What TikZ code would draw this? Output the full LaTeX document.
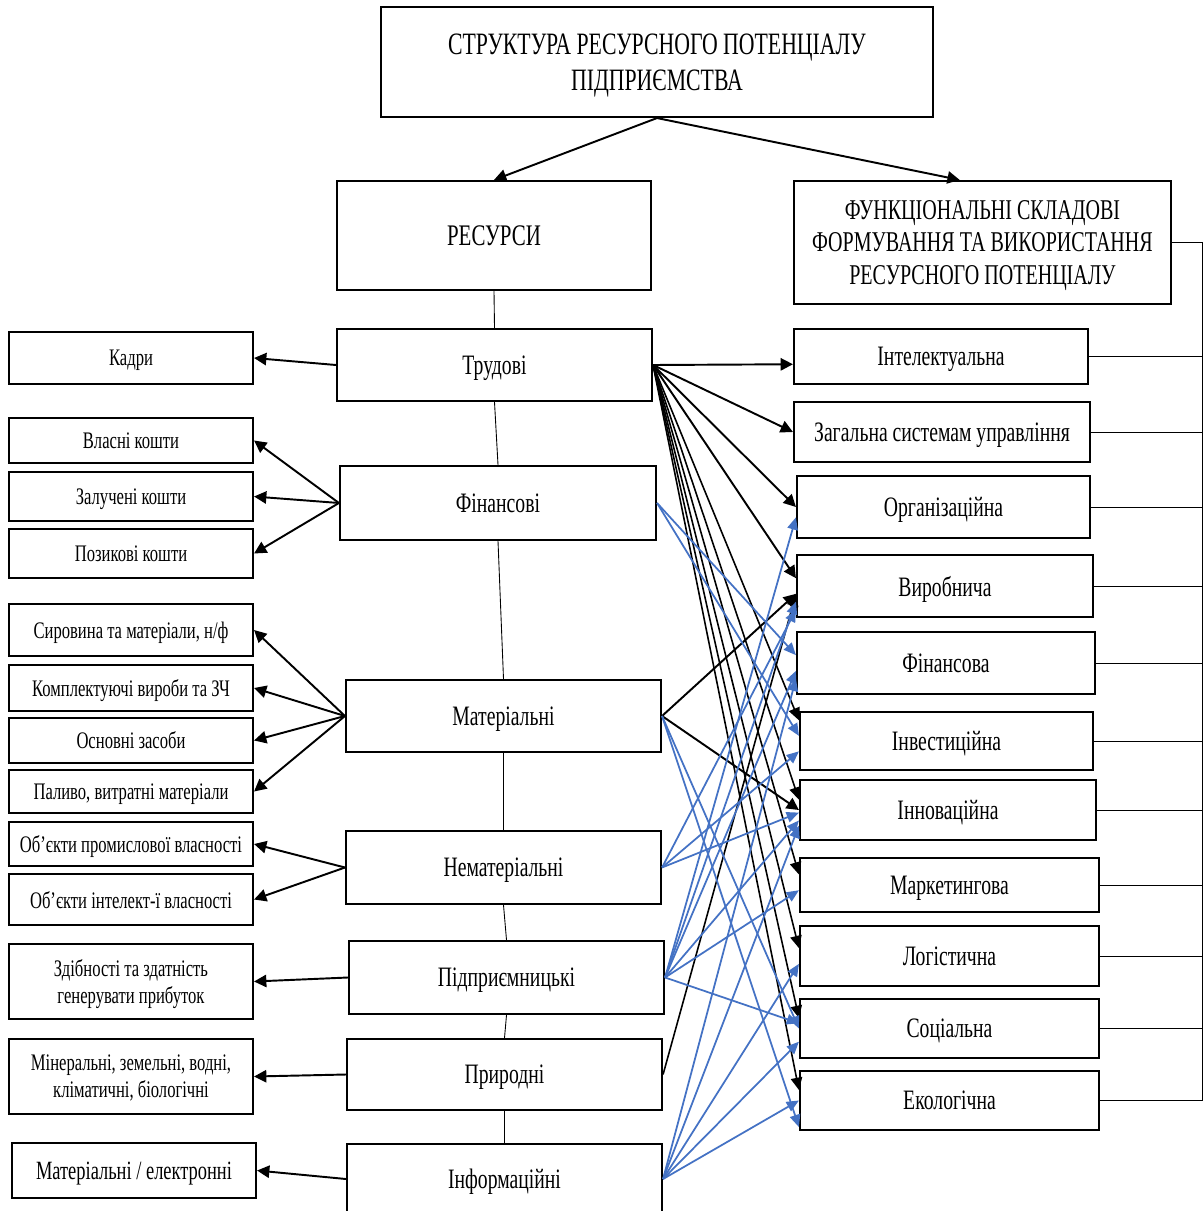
\documentclass[tikz,border=0pt]{standalone}
\usepackage{fontspec}
\setmainfont{Liberation Serif}[FakeStretch=0.7]
\usetikzlibrary{arrows.meta}
\definecolor{lineblue}{RGB}{68,114,196}
\tikzset{
  box/.style={draw, line width=1.2pt, inner sep=2pt, align=center, text depth=0pt},
  lbox/.style={box, minimum width=4.88cm, font=\fontsize{13.5}{15.5}\selectfont},
  mbox/.style={box, minimum width=6.3cm, font=\fontsize{16}{19}\selectfont},
  rbox/.style={box, font=\fontsize{16}{19}\selectfont},
  blk/.style={line width=1.1pt, -{Triangle[length=7pt,width=7pt]}},
  bundle/.style={line width=0.9pt, -{Triangle[length=7pt,width=6.5pt]}},
  blu/.style={color=lineblue, line width=1pt, -{Triangle[length=7pt,width=6pt]}},
  link/.style={line width=0.5pt}
}

\begin{document}
\begin{tikzpicture}
  \useasboundingbox (0,0) rectangle (24.06,-24.22);

  \node[box, minimum width=11.04cm, minimum height=2.2cm, font=\fontsize{17.7}{20.5}\selectfont] (title) at (13.14,-1.24) {СТРУКТУРА РЕСУРСНОГО ПОТЕНЦІАЛУ\\ПІДПРИЄМСТВА};
  \node[box, minimum width=6.28cm, minimum height=2.18cm, font=\fontsize{17}{20}\selectfont] (res) at (9.88,-4.71) {РЕСУРСИ};
  \node[box, minimum width=7.54cm, minimum height=2.46cm, font=\fontsize{16.3}{18.7}\selectfont] (funk) at (19.65,-4.85) {ФУНКЦІОНАЛЬНІ СКЛАДОВІ\\ФОРМУВАННЯ ТА ВИКОРИСТАННЯ\\РЕСУРСНОГО ПОТЕНЦІАЛУ};

  \node[mbox, minimum height=1.44cm] (trud) at (9.89,-7.30) {Трудові};
  \node[mbox, minimum width=6.32cm, minimum height=1.48cm] (fin) at (9.96,-10.06) {Фінансові};
  \node[mbox, minimum height=1.44cm] (mat) at (10.07,-14.32) {Матеріальні};
  \node[mbox, minimum height=1.46cm] (nemat) at (10.07,-17.35) {Нематеріальні};
  \node[mbox, minimum height=1.46cm] (pidpr) at (10.13,-19.55) {Підприємницькі};
  \node[mbox, minimum height=1.42cm] (pryr) at (10.09,-21.49) {Природні};
  \node[mbox, minimum height=1.4cm] (inform) at (10.09,-23.58) {Інформаційні};

  \node[lbox, minimum height=1.04cm] (kadry) at (2.62,-7.16) {Кадри};
  \node[lbox, minimum height=0.9cm] (vlasni) at (2.62,-8.81) {Власні кошти};
  \node[lbox, minimum height=0.98cm] (zaluch) at (2.62,-9.93) {Залучені кошти};
  \node[lbox, minimum height=0.98cm] (pozyk) at (2.62,-11.07) {Позикові кошти};
  \node[lbox, minimum height=1.04cm] (syrov) at (2.62,-12.6) {Сировина та матеріали, н/ф};
  \node[lbox, minimum height=0.92cm] (kompl) at (2.62,-13.76) {Комплектуючі вироби та ЗЧ};
  \node[lbox, minimum height=0.9cm] (osnov) at (2.62,-14.81) {Основні засоби};
  \node[lbox, minimum height=0.86cm] (palyvo) at (2.62,-15.83) {Паливо, витратні матеріали};
  \node[lbox, minimum height=0.88cm] (prom) at (2.62,-16.88) {Об'єкти промислової власності};
  \node[lbox, minimum height=1.02cm] (intel) at (2.62,-17.99) {Об'єкти інтелект-ї власності};
  \node[lbox, minimum height=1.5cm] (zdib) at (2.62,-19.63) {Здібності та здатність\\генерувати прибуток};
  \node[lbox, minimum height=1.5cm] (miner) at (2.62,-21.53) {Мінеральні, земельні, водні,\\кліматичні, біологічні};
  \node[lbox, minimum height=1.1cm, font=\fontsize{15}{18}\selectfont] (elektr) at (2.68,-23.41) {Матеріальні / електронні};

  \node[rbox, minimum width=5.88cm, minimum height=1.1cm] (intelekt) at (18.82,-7.13) {Інтелектуальна};
  \node[rbox, minimum width=5.92cm, minimum height=1.2cm] (zahal) at (18.84,-8.64) {Загальна системам управління};
  \node[rbox, minimum width=5.86cm, minimum height=1.24cm] (orhan) at (18.87,-10.14) {Організаційна};
  \node[rbox, minimum width=5.92cm, minimum height=1.24cm] (vyrob) at (18.9,-11.72) {Виробнича};
  \node[rbox, minimum width=5.96cm, minimum height=1.24cm] (finans) at (18.92,-13.26) {Фінансова};
  \node[rbox, minimum width=5.86cm, minimum height=1.16cm] (invest) at (18.93,-14.82) {Інвестиційна};
  \node[rbox, minimum width=5.92cm, minimum height=1.2cm] (innov) at (18.96,-16.2) {Інноваційна};
  \node[rbox, minimum width=5.98cm, minimum height=1.08cm] (market) at (18.99,-17.7) {Маркетингова};
  \node[rbox, minimum width=5.98cm, minimum height=1.2cm] (lohist) at (18.99,-19.12) {Логістична};
  \node[rbox, minimum width=5.98cm, minimum height=1.18cm] (social) at (18.99,-20.57) {Соціальна};
  \node[rbox, minimum width=5.98cm, minimum height=1.18cm] (ekolog) at (18.99,-22.01) {Екологічна};

  \draw[blk] (title.south) -- (res.north);
  \draw[blk] (title.south) -- (funk.110);

  \foreach \a/\b in {res/trud, trud/fin, fin/mat, mat/nemat, nemat/pidpr, pidpr/pryr, pryr/inform}
    \draw[link] (\a.south) -- (\b.north);

  \draw[blk] (trud.west) -- (kadry.east);
  \foreach \t in {vlasni, zaluch, pozyk} \draw[blk] (fin.west) -- (\t.east);
  \foreach \t in {syrov, kompl, osnov, palyvo} \draw[blk] (mat.west) -- (\t.east);
  \foreach \t in {prom, intel} \draw[blk] (nemat.west) -- (\t.east);
  \draw[blk] (pidpr.west) -- (zdib.east);
  \draw[blk] (pryr.west) -- (miner.east);
  \draw[blk] (inform.west) -- (elektr.east);

  \draw[link] (funk.east) -- ++(0.6,0) coordinate (br) -- (br |- ekolog.east);
  \foreach \t in {intelekt, zahal, orhan, vyrob, finans, invest, innov, market, lohist, social, ekolog}
    \draw[link] (\t.east) -- (\t.east -| br);

  \draw[blk] (trud.east) -- (intelekt.183);
  \draw[blk] (trud.east) -- (zahal.west);
  \draw[blk] (trud.east) -- (orhan.west);
  \draw[blk] (trud.east) -- (vyrob.177);
  \foreach \t in {invest.172, innov.176, market.176, lohist.177, social.176, ekolog.176}
    \draw[bundle] (trud.east) -- (\t);
  \draw[blk] (mat.east) -- (vyrob.183);
  \draw[blk] (mat.east) -- (innov.west);
  \draw[bundle] (pryr.east) -- (vyrob.183);

  \foreach \s/\t in {fin/finans.177, fin/invest.178, mat/social.west, mat/ekolog.190,
      nemat/vyrob.189, nemat/invest.184, nemat/innov.181,
      pidpr/orhan.184, pidpr/vyrob.186, pidpr/finans.183, pidpr/innov.184, pidpr/market.182, pidpr/social.178,
      inform/finans.186, inform/innov.186, inform/lohist.183, inform/social.185, inform/ekolog.west}
    \draw[blu] (\s.east) -- (\t);
\end{tikzpicture}
\end{document}
